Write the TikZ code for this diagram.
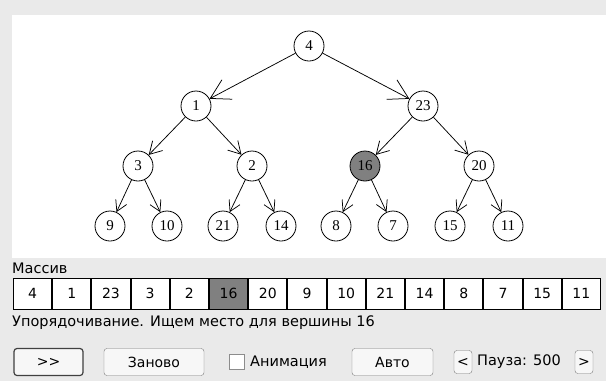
\documentclass[tikz,border=0pt]{standalone}
\usepackage{fontspec}
\setmainfont{Liberation Serif}
\newfontfamily\uifont{DejaVu Sans}
\usetikzlibrary{arrows.meta}

\definecolor{formgray}{HTML}{EAEAEA}
\definecolor{markgray}{HTML}{808080}
\definecolor{btnedge}{HTML}{7A7A7A}

\tikzset{
  vertex/.style={circle,draw,line width=0.8pt,minimum size=30pt,inner sep=0pt,
    fill=white,font=\fontsize{15}{15}\selectfont},
  link/.style={line width=0.75pt,-{Straight Barb[angle=60:#1]}},
  cell/.style={draw,line width=1pt,minimum width=38.2pt,minimum height=31pt,
    inner sep=0pt,fill=white,font=\uifont\fontsize{14}{14}\selectfont},
  btn/.style={draw=btnedge,fill=black!3,rounded corners=3pt,minimum height=27pt,
    inner sep=0pt,font=\uifont\fontsize{14}{14}\selectfont},
  caption/.style={anchor=west,inner sep=0pt,font=\uifont\fontsize{14.5}{14.5}\selectfont},
}

\begin{document}
\begin{tikzpicture}[x=1pt,y=-1pt]
\useasboundingbox (0,0) rectangle (606,381);
\fill[formgray] (0,0) rectangle (606,381);
\fill[white] (12,15) rectangle (606,258);

% heap as a tree
\node[vertex] (n4) at (309,46) {4};
\node[vertex] (n1) at (196,106) {1};
\node[vertex] (n23) at (423,106) {23};
\node[vertex] (n3) at (138,166) {3};
\node[vertex] (n2) at (252,166) {2};
\node[vertex,fill=markgray] (n16) at (365,166) {16};
\node[vertex] (n20) at (479,166) {20};
\node[vertex] (n9) at (110,226) {9};
\node[vertex] (n10) at (167,226) {10};
\node[vertex] (n21) at (223,226) {21};
\node[vertex] (n14) at (281,226) {14};
\node[vertex] (n8) at (336,226) {8};
\node[vertex] (n7) at (393,226) {7};
\node[vertex] (n15) at (450,226) {15};
\node[vertex] (n11) at (508,226) {11};

\draw[link=22pt] (n4) -- (n1);
\draw[link=22pt] (n4) -- (n23);
\draw[link=14pt] (n1) -- (n3);
\draw[link=14pt] (n1) -- (n2);
\draw[link=14pt] (n23) -- (n16);
\draw[link=14pt] (n23) -- (n20);
\draw[link=12pt] (n3) -- (n9);
\draw[link=12pt] (n3) -- (n10);
\draw[link=12pt] (n2) -- (n21);
\draw[link=12pt] (n2) -- (n14);
\draw[link=12pt] (n16) -- (n8);
\draw[link=12pt] (n16) -- (n7);
\draw[link=12pt] (n20) -- (n15);
\draw[link=12pt] (n20) -- (n11);

% the same heap as an array
\node[caption] (title) at (12,268) {Массив};
\node[cell] (a1) at (32.6,293.5) {4};
\node[cell] (a2) at (71.8,293.5) {1};
\node[cell] (a3) at (111.0,293.5) {23};
\node[cell] (a4) at (150.2,293.5) {3};
\node[cell] (a5) at (189.4,293.5) {2};
\node[cell,fill=markgray] (a6) at (228.6,293.5) {16};
\node[cell] (a7) at (267.8,293.5) {20};
\node[cell] (a8) at (307.0,293.5) {9};
\node[cell] (a9) at (346.2,293.5) {10};
\node[cell] (a10) at (385.4,293.5) {21};
\node[cell] (a11) at (424.6,293.5) {14};
\node[cell] (a12) at (463.8,293.5) {8};
\node[cell] (a13) at (503.0,293.5) {7};
\node[cell] (a14) at (542.2,293.5) {15};
\node[cell] (a15) at (581.4,293.5) {11};
\node[caption] (status) at (12,323) {Упорядочивание. Ищем место для вершины 16};

% controls
\node[btn,draw=black!75,line width=1.2pt,minimum width=69pt] (step) at (48.5,362) {>>};
\node[btn,minimum width=100pt] (again) at (154,362) {Заново};
\node[draw=black!45,fill=white,minimum size=15pt,inner sep=0pt] (anim) at (236.5,362) {};
\node[caption] (animtext) at (250,362) {Анимация};
\node[btn,minimum width=81pt] (auto) at (392.5,362) {Авто};
\node[btn,minimum width=18pt,minimum height=23pt] (slower) at (463,362) {<};
\node[caption] (pause) at (477,362) {Пауза: 500};
\node[btn,minimum width=18pt,minimum height=23pt] (faster) at (584,362) {>};
\end{tikzpicture}
\end{document}
